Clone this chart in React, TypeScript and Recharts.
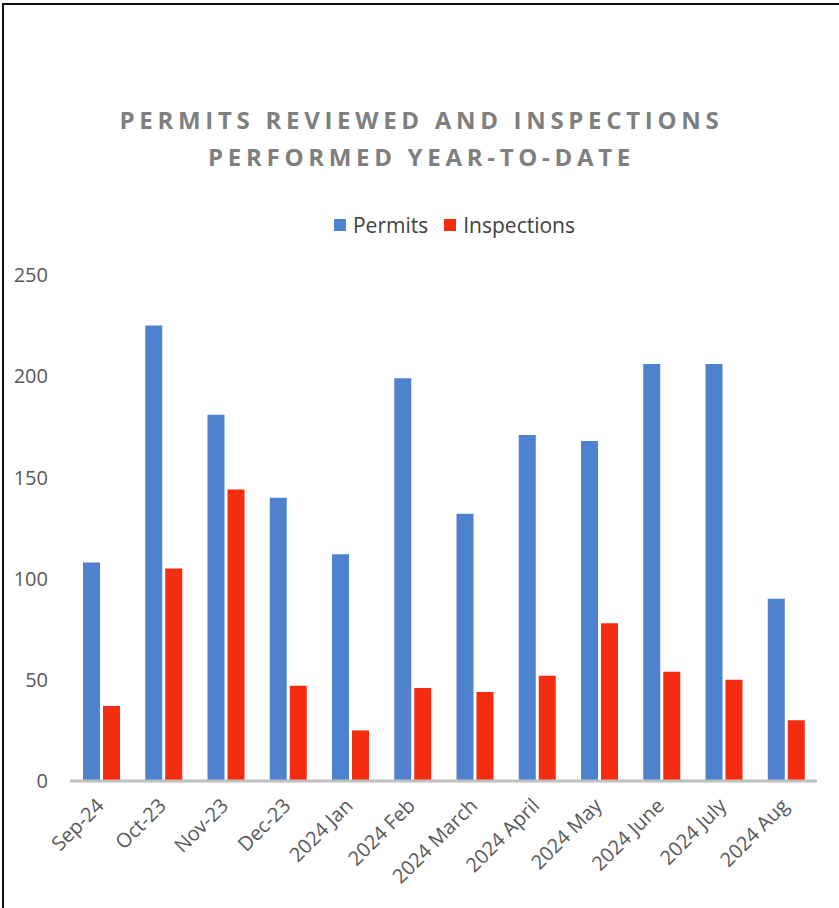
import React from 'react';
import { BarChart, Bar, XAxis, YAxis } from 'recharts';

const months = [
  'Sep-24', 'Oct-23', 'Nov-23', 'Dec-23', '2024 Jan', '2024 Feb',
  '2024 March', '2024 April', '2024 May', '2024 June', '2024 July', '2024 Aug',
];
const permits = [108, 225, 181, 140, 112, 199, 132, 171, 168, 206, 206, 90];
const inspections = [37, 105, 144, 47, 25, 46, 44, 52, 78, 54, 50, 30];
const yTicks = [0, 50, 100, 150, 200, 250];

const data = months.map((m, i) => ({ month: m, permits: permits[i], inspections: inspections[i] }));

const BLUE = '#4E82CF';
const RED = '#F42C10';
const FONT = '"Open Sans", sans-serif';

const MonthTick = (props: any) => {
  const { x, y, payload } = props;
  return (
    <text
      x={x + 4}
      y={y + 18}
      transform={`rotate(-45, ${x + 4}, ${y + 18})`}
      textAnchor="end"
      fontFamily={FONT}
      fontSize={20}
      fill="#595959"
    >
      {payload.value}
    </text>
  );
};

export default function App() {
  return (
    <div style={{ position: 'absolute', left: 0, top: 0, width: 839, height: 908, background: '#fff', overflow: 'hidden' }}>
      <div style={{ position: 'absolute', left: 2, top: 3, width: 845, height: 910, borderLeft: '2px solid #111', borderTop: '2px solid #111' }} />
      <div
        style={{
          position: 'absolute', left: 2, top: 101, width: 839, textAlign: 'center',
          fontFamily: FONT, fontWeight: 700, fontSize: 24, letterSpacing: 4.7, color: '#7F7F7F', lineHeight: '37px',
        }}
      >
        PERMITS REVIEWED AND INSPECTIONS
        <br />
        PERFORMED YEAR-TO-DATE
      </div>
      <div
        style={{
          position: 'absolute', left: 0, top: 211, width: 839, display: 'flex', justifyContent: 'center',
          fontFamily: FONT, fontSize: 21, color: '#404040', paddingLeft: 70, boxSizing: 'border-box',
        }}
      >
        <span style={{ display: 'flex', alignItems: 'center', marginRight: 16 }}>
          <span style={{ width: 12, height: 12, background: BLUE, marginRight: 7 }} />
          Permits
        </span>
        <span style={{ display: 'flex', alignItems: 'center' }}>
          <span style={{ width: 12, height: 12, background: RED, marginRight: 7 }} />
          Inspections
        </span>
      </div>
      <BarChart
        width={839}
        height={908}
        data={data}
        margin={{ top: 275, right: 22, bottom: 0, left: 0 }}
        barGap={3}
        barSize={17}
        style={{ position: 'absolute', left: 0, top: 0 }}
      >
        <XAxis
          dataKey="month"
          axisLine={{ stroke: '#BFBFBF', strokeWidth: 3 }}
          tickLine={false}
          interval={0}
          tick={<MonthTick />}
          height={127}
        />
        <YAxis
          domain={[0, 250]}
          ticks={yTicks}
          width={70}
          axisLine={false}
          tickLine={false}
          tickMargin={16}
          tick={{ fontFamily: FONT, fontSize: 20, fill: '#595959' }}
        />
        <Bar dataKey="permits" name="Permits" fill={BLUE} isAnimationActive={false} />
        <Bar dataKey="inspections" name="Inspections" fill={RED} isAnimationActive={false} />
      </BarChart>
    </div>
  );
}
